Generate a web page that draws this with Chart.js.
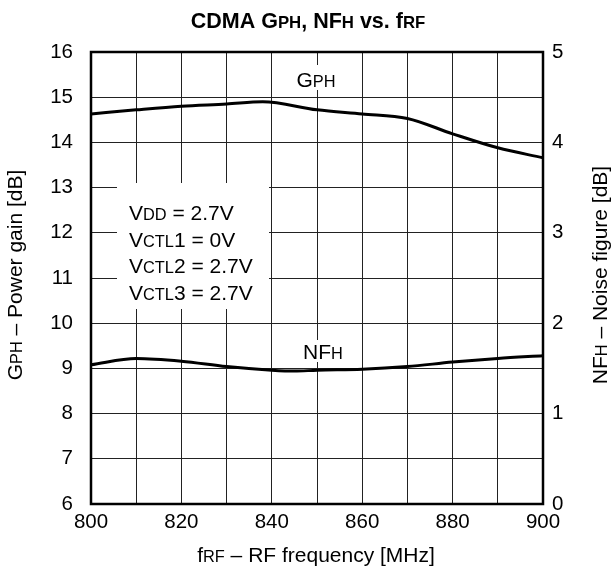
<!DOCTYPE html>
<html>
<head>
<meta charset="utf-8">
<script src="https://cdn.jsdelivr.net/npm/chart.js@4/dist/chart.umd.min.js"></script>
<style>
html,body{margin:0;padding:0;background:#fff;}
#c{display:block;}
</style>
</head>
<body>
<canvas id="c" width="614" height="572"></canvas>
<script>
// ---- data ----
const gphFreq   = [800, 810, 820, 830, 838, 850, 860, 870, 880, 890, 900];
const gphValues = [14.63, 14.72, 14.80, 14.85, 14.90, 14.72, 14.63, 14.53, 14.19, 13.88, 13.66];
const nfFreq    = [800, 810, 820, 830, 840, 845, 850, 860, 870, 880, 890, 900];
const nfValues  = [1.54, 1.61, 1.58, 1.52, 1.48, 1.47, 1.48, 1.49, 1.52, 1.57, 1.61, 1.64];
const xTicks    = [800, 820, 840, 860, 880, 900];
const conditions = [
  [['V',1],['DD',0.78],[' = 2.7V',1]],
  [['V',1],['CTL',0.78],['1 = 0V',1]],
  [['V',1],['CTL',0.78],['2 = 2.7V',1]],
  [['V',1],['CTL',0.78],['3 = 2.7V',1]]
];

const FONT = '"Liberation Sans", Arial, Helvetica, sans-serif';
const BASE = 21;

function richWidth(ctx, parts, size, weight) {
  let w = 0;
  for (const [t, s] of parts) {
    ctx.font = `${weight} ${size * s}px ${FONT}`;
    w += ctx.measureText(t).width;
  }
  return w;
}
function drawRich(ctx, parts, x, y, size, weight, align) {
  const w = richWidth(ctx, parts, size, weight);
  let cx = align === 'center' ? x - w / 2 : (align === 'right' ? x - w : x);
  ctx.textBaseline = 'alphabetic';
  ctx.textAlign = 'left';
  for (const [t, s] of parts) {
    ctx.font = `${weight} ${size * s}px ${FONT}`;
    ctx.fillText(t, cx, y);
    cx += ctx.measureText(t).width;
  }
}

const decor = {
  id: 'decor',
  beforeDatasetsDraw(chart) {
    const ctx = chart.ctx;
    ctx.save();
    ctx.fillStyle = '#fff';
    ctx.fillRect(117, 183, 152, 126);   // conditions box
    ctx.fillRect(293, 65, 47, 25);      // GPH label bg
    ctx.fillRect(298, 340, 50, 22);     // NFH label bg
    ctx.restore();
  },
  afterDraw(chart) {
    const ctx = chart.ctx;
    const a = chart.chartArea;
    ctx.save();
    ctx.fillStyle = '#000';
    // frame
    ctx.strokeStyle = '#000';
    ctx.lineWidth = 2.5;
    ctx.strokeRect(a.left, a.top, a.right - a.left, a.bottom - a.top);
    // title
    drawRich(ctx, [['CDMA G',1],['PH',0.78],[', NF',1],['H',0.78],[' vs. f',1],['RF',0.78]], 308, 28, 21.5, 'bold', 'center');
    // x axis title
    drawRich(ctx, [['f',1],['RF',0.78],[' \u2013 RF frequency [MHz]',1]], 316, 562, BASE, 'normal', 'center');
    // left axis title
    ctx.save();
    ctx.translate(22, 275);
    ctx.rotate(-Math.PI / 2);
    drawRich(ctx, [['G',1],['PH',0.78],[' \u2013 Power gain [dB]',1]], 0, 0, BASE, 'normal', 'center');
    ctx.restore();
    // right axis title
    ctx.save();
    ctx.translate(607, 275);
    ctx.rotate(-Math.PI / 2);
    drawRich(ctx, [['NF',1],['H',0.78],[' \u2013 Noise figure [dB]',1]], 0, 0, BASE, 'normal', 'center');
    ctx.restore();
    // curve labels
    drawRich(ctx, [['G',1],['PH',0.78]], 316, 87, BASE, 'normal', 'center');
    drawRich(ctx, [['NF',1],['H',0.78]], 323, 359, BASE, 'normal', 'center');
    // conditions
    const bl = [220, 247, 273, 300];
    conditions.forEach((parts, i) => drawRich(ctx, parts, 129, bl[i], BASE, 'normal', 'left'));
    ctx.restore();
  }
};

new Chart(document.getElementById('c'), {
  type: 'line',
  data: {
    datasets: [
      {
        label: 'GPH',
        data: gphFreq.map((f, i) => ({x: f, y: gphValues[i]})),
        yAxisID: 'y',
        borderColor: '#000',
        borderWidth: 3,
        pointRadius: 0,
        cubicInterpolationMode: 'monotone',
        fill: false
      },
      {
        label: 'NFH',
        data: nfFreq.map((f, i) => ({x: f, y: nfValues[i]})),
        yAxisID: 'y2',
        borderColor: '#000',
        borderWidth: 3,
        pointRadius: 0,
        cubicInterpolationMode: 'monotone',
        fill: false
      }
    ]
  },
  options: {
    responsive: false,
    animation: false,
    events: [],
    layout: {padding: {top: 52, left: 0, right: 0, bottom: 0}},
    plugins: {legend: {display: false}, title: {display: false}, tooltip: {enabled: false}},
    scales: {
      x: {
        type: 'linear',
        min: 800, max: 900,
        afterFit(s) { s.height = 68; },
        grid: {color: '#222', lineWidth: 1, drawTicks: false},
        border: {display: false},
        ticks: {
          stepSize: 10,
          autoSkip: false,
          maxRotation: 0,
          padding: 6,
          color: '#000',
          font: {family: FONT, size: 20.5},
          callback: v => xTicks.includes(v) ? String(v) : ''
        }
      },
      y: {
        position: 'left',
        min: 6, max: 16,
        afterFit(s) { s.width = 91; },
        grid: {color: '#222', lineWidth: 1, drawTicks: false},
        border: {display: false},
        ticks: {stepSize: 1, padding: 18, color: '#000', font: {family: FONT, size: 20.5}}
      },
      y2: {
        position: 'right',
        min: 0, max: 5,
        afterFit(s) { s.width = 71; },
        grid: {display: false, drawTicks: false},
        border: {display: false},
        ticks: {stepSize: 1, padding: 9, color: '#000', font: {family: FONT, size: 20.5}}
      }
    }
  },
  plugins: [decor]
});
</script>
</body>
</html>
